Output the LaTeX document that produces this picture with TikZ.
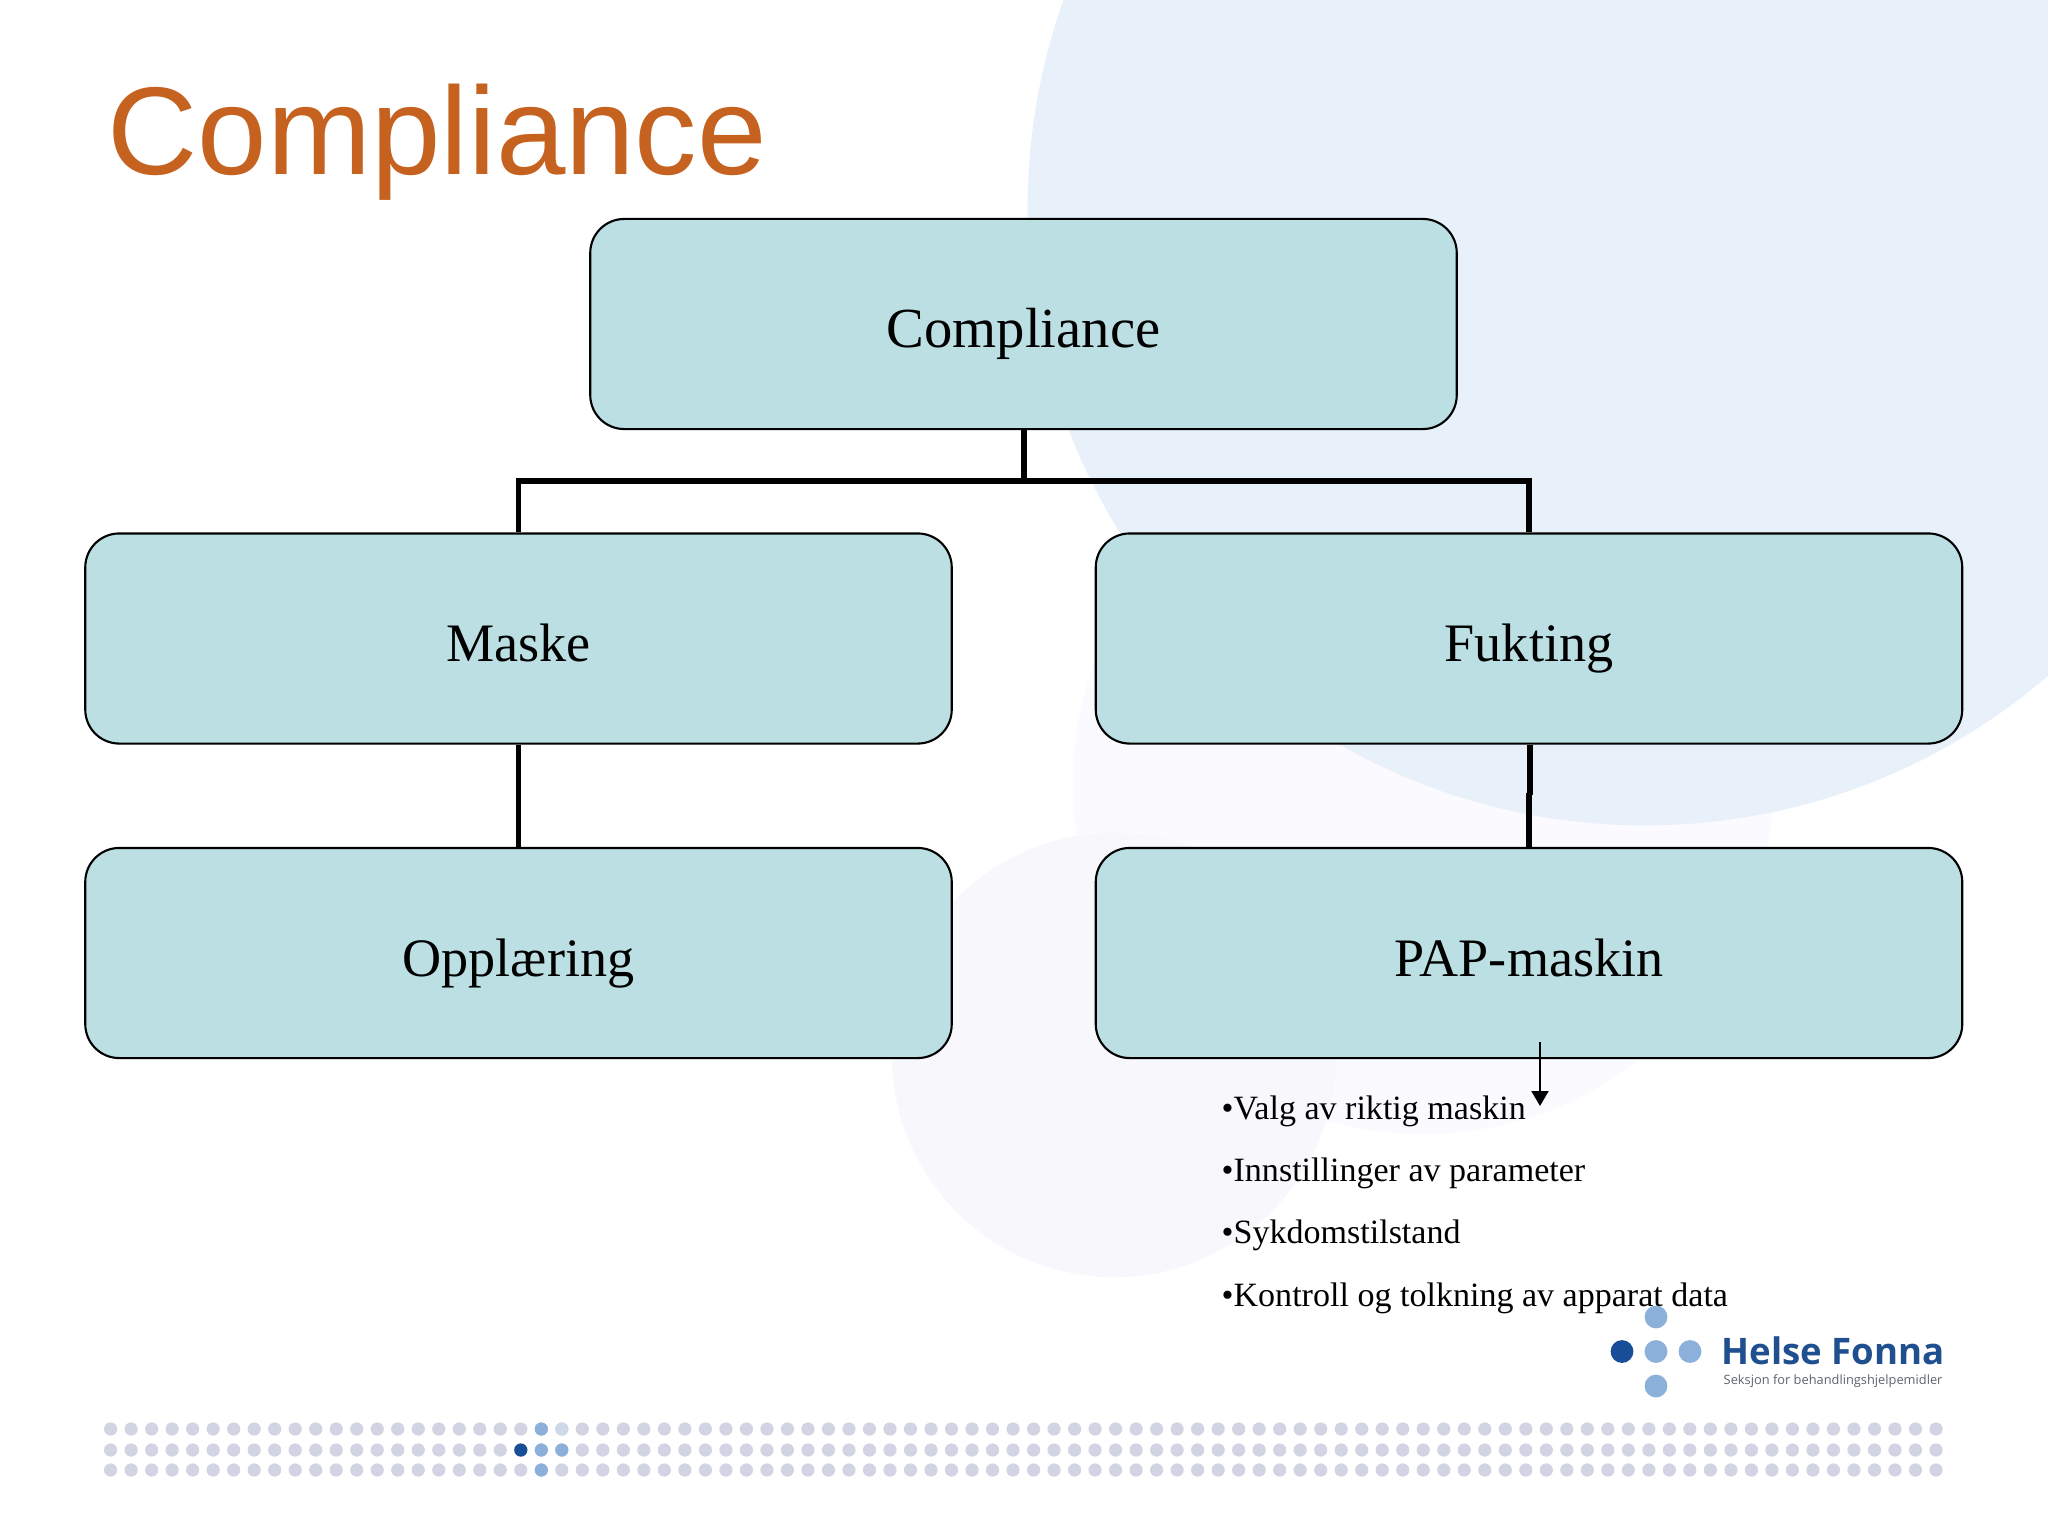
\documentclass[tikz,border=0pt]{standalone}
\usepackage{fontspec}
\setmainfont{Liberation Serif}
\newfontfamily\titlefont{Liberation Sans}
\newfontfamily\logofont{Open Sans}
\usetikzlibrary{positioning,arrows.meta}
\tikzset{>=latex}
\definecolor{boxfill}{HTML}{BBDFE2}
\definecolor{titlecolor}{HTML}{C66220}
\definecolor{bigcircle}{HTML}{E8F0FA}
\definecolor{palecircle}{HTML}{FBFAFE}
\definecolor{lowcircle}{HTML}{F7F7FC}
\definecolor{dotgray}{HTML}{D2D3E3}
\definecolor{dotpale}{HTML}{CDD9E6}
\definecolor{dotdark}{HTML}{174E97}
\definecolor{dotlight}{HTML}{8BB0DA}
\definecolor{logoblue}{HTML}{1F4F8F}
\definecolor{logogray}{HTML}{5A6470}
\tikzset{
  orgbox/.style={draw=black, fill=boxfill, line width=0.6pt, rounded corners=0.34cm,
    minimum width=8.66cm, minimum height=2.1cm, inner sep=0pt,
    text height=0.46cm, text depth=0cm, font=\fontsize{15.4}{19}\selectfont},
  treeline/.style={line width=1.7pt, color=black},
  listitem/.style={anchor=base west, inner sep=0pt, font=\fontsize{9.68}{12}\selectfont},
  smalldot/.style={radius=0.066cm},
  logodot/.style={radius=0.114cm},
}
\begin{document}
\begin{tikzpicture}[x=0.01cm, y=-0.01cm]

\useasboundingbox (0,0) rectangle (2048,1536);
\fill[white] (0,0) rectangle (2048,1536);

\begin{scope}
\clip (0,0) rectangle (2048,1536);
\fill[palecircle] (1423,784) circle[radius=3.5cm];
\fill[lowcircle] (1114,1055) circle[radius=2.22cm];
\fill[bigcircle] (1645,208) circle[radius=6.17cm];
\end{scope}

\node[anchor=base west, inner sep=0pt, text=titlecolor, font=\titlefont\fontsize{35.5}{40}\selectfont] (title) at (107,174) {Compliance};

\node[orgbox, font=\fontsize{16.1}{19}\selectfont] (compliance) at (1023.5,324) {Compliance};
\node[orgbox] (maske) at (518.5,638.5) {Maske};
\node[orgbox] (fukting) at (1529,638.5) {Fukting};
\node[orgbox] (opplaering) at (518.5,953) {Opplæring};
\node[orgbox] (papmaskin) at (1529,953) {PAP-maskin};

\coordinate (trunk) at (1023.5,481);
\coordinate (jogtop) at (1530,795);
\coordinate (jogbottom) at (1529,793);
\coordinate (arrowstart) at (1540,1042);
\coordinate (arrowend) at (1540,1106);

\draw[treeline] (compliance.south) -- (trunk);
\draw[treeline] (maske.north) |- (trunk) -| (fukting.north);
\draw[treeline] (maske.south) -- (opplaering.north);
\draw[treeline] (fukting.south -| jogtop) -- (jogtop);
\draw[treeline] (jogbottom) -- (papmaskin.north);

\draw[-{Triangle[length=0.15cm,width=0.17cm]}, line width=0.55pt] (arrowstart) -- (arrowend);

\node[listitem] (valg) at (1221,1119) {•Valg av riktig maskin};
\node[listitem] (innstillinger) at (1221,1181) {•Innstillinger av parameter};
\node[listitem] (sykdom) at (1221,1243) {•Sykdomstilstand};
\node[listitem] (kontroll) at (1221,1306) {•Kontroll og tolkning av apparat data};

\foreach \y in {1429,1450,1470}
  \foreach \col in {0,...,89}
    \fill[dotgray] (110.6+20.51*\col,\y) circle[smalldot];
\fill[dotdark] (520.8,1450) circle[smalldot];
\fill[dotlight] (541.3,1429) circle[smalldot];
\fill[dotlight] (541.3,1450) circle[smalldot];
\fill[dotlight] (541.3,1470) circle[smalldot];
\fill[dotlight] (561.8,1450) circle[smalldot];
\fill[dotpale] (561.8,1429) circle[smalldot];

\fill[dotdark] (1622,1351.5) circle[logodot];
\fill[dotlight] (1656,1351.5) circle[logodot];
\fill[dotlight] (1690,1351.5) circle[logodot];
\fill[dotlight] (1656,1317) circle[logodot];
\fill[dotlight] (1656,1386) circle[logodot];

\node[anchor=base west, inner sep=0pt, text=logoblue, font=\logofont\bfseries\fontsize{10.4}{12}\selectfont] (helse) at (1721,1364) {Helse Fonna};
\node[anchor=base west, inner sep=0pt, text=logogray, font=\logofont\fontsize{3.65}{5}\selectfont] (seksjon) at (1723,1384) {Seksjon for behandlingshjelpemidler};

\end{tikzpicture}
\end{document}
